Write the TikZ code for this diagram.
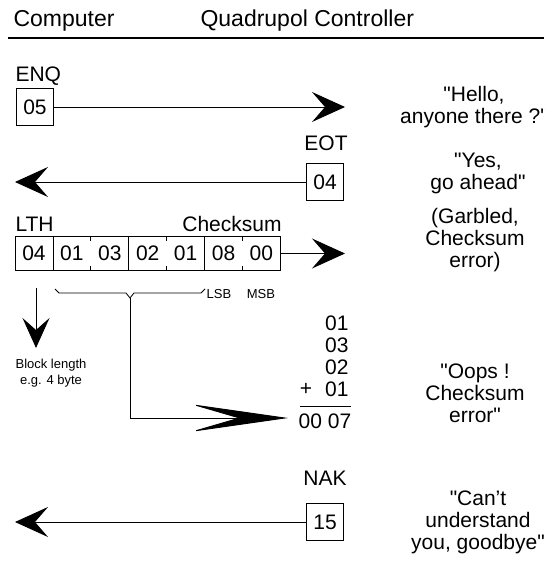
\documentclass[tikz,border=0pt]{standalone}
\usepackage{fontspec}
\setmainfont{Liberation Sans}[Ligatures=TeXOff]
\usetikzlibrary{arrows.meta,positioning}

\begin{document}
\begin{tikzpicture}[x=1pt,y=-1pt,
       every node/.style={font=\fontsize{21}{22}\selectfont},
       heading/.style={anchor=base west, font=\fontsize{23}{24}\selectfont},
       bytebox/.style={draw, line width=0.9pt, minimum width=37pt,
                       minimum height=37pt, inner sep=0pt},
       cell/.style={minimum width=37.5pt, minimum height=33pt, inner sep=0pt},
       remark/.style={align=center},
       smalltext/.style={font=\fontsize{13}{16}\selectfont, align=center},
       msgline/.style={line width=0.9pt, -{Stealth[length=33pt,width=30pt,inset=13pt]}},
       downline/.style={line width=0.9pt, -{Stealth[length=30pt,width=27pt,inset=12pt]}},
       longline/.style={line width=0.9pt, -{Stealth[length=98pt,width=28pt,inset=48pt]}}]
	\useasboundingbox (0,0) rectangle (544,564);
	%% Header
	\node [heading] (computer) at (10,27) {Computer};
	\node [heading] (controller) at (197,27) {Quadrupol Controller};
	\draw [line width=2pt] (8,38) -- (544,38);
	%% ENQ
	\node [anchor=base west] (enqlabel) at (12,82) {ENQ};
	\node [bytebox] (enq) at (35,107) {05};
	\coordinate (enqend) at (345,107);
	\draw [msgline] (enq) -- (enqend);
	\node [remark] (hello) at (474,107) {"Hello,\\anyone there ?"};
	%% EOT
	\node (eotlabel) at (326,143) {EOT};
	\node [bytebox] (eot) at (325,182) {04};
	\coordinate (eotend) at (15,182);
	\draw [msgline] (eot) -- (eotend);
	\node [remark] (yes) at (478,173) {"Yes,\\go ahead"};
	%% Data block
	\node [anchor=base west] (lthlabel) at (12,231) {LTH};
	\node (checklabel) at (232,224) {Checksum};
	\node [cell] (cLth) at (34,253.5) {04};
	\node [cell, right=0pt of cLth] (cA) {01};
	\node [cell, right=0pt of cA] (cB) {03};
	\node [cell, right=0pt of cB] (cC) {02};
	\node [cell, right=0pt of cC] (cD) {01};
	\node [cell, right=0pt of cD] (cLsb) {08};
	\node [cell, right=0pt of cLsb] (cMsb) {00};
	\draw [line width=0.9pt] (cLth.north west) rectangle (cMsb.south east);
	\foreach \c in {cA,cC,cLsb}
		\draw [line width=0.9pt] (\c.north west) -- (\c.south west);
	\foreach \c in {cB,cD,cMsb} {
		\draw [line width=0.9pt] (\c.north west) -- ++(0,4);
		\draw [line width=0.9pt] (\c.south west) -- ++(0,-4);
	}
	\coordinate (blockend) at (345,253.5);
	\draw [msgline] (cMsb) -- (blockend);
	\node [remark] (garbled) at (475,240) {(Garbled,\\Checksum\\error)};
	\node [smalltext] (lsb) at (219,294) {LSB};
	\node [smalltext] (msb) at (261,294) {MSB};
	%% Brace over the data bytes
	\coordinate (bracetip) at (130,298);
	\draw [line width=0.8pt] (55,289) -- (59,293) -- (126,293) -- (bracetip)
		-- (134,293) -- (201,293) -- (205,289);
	%% Block length
	\coordinate (lthfoot) at (36,288);
	\coordinate (lthtip) at (36,348);
	\draw [downline] (lthfoot) -- (lthtip);
	\node [smalltext] (blocklen) at (51,373) {Block length\\e.g. 4 byte};
	%% Checksum sum
	\node [anchor=east] (s1) at (352,323) {01};
	\node [anchor=east] (s2) at (352,345) {03};
	\node [anchor=east] (s3) at (352,367) {02};
	\node [anchor=east] (s4) at (352,389) {01};
	\node (plus) at (306,389) {+};
	\draw [line width=0.9pt] (300,406) -- (351,406);
	\node (sumres) at (325,421) {00 07};
	\coordinate (sumtip) at (288,418);
	\draw [longline] (bracetip) |- (sumtip);
	\node [remark] (oops) at (475,393) {"Oops !\\Checksum\\error"};
	%% NAK
	\node (naklabel) at (325,478) {NAK};
	\node [bytebox] (nak) at (325,522) {15};
	\coordinate (nakend) at (15,522);
	\draw [msgline] (nak) -- (nakend);
	\node [remark] (cant) at (478,522) {"Can’t\\understand\\you, goodbye"};
\end{tikzpicture}
\end{document}
